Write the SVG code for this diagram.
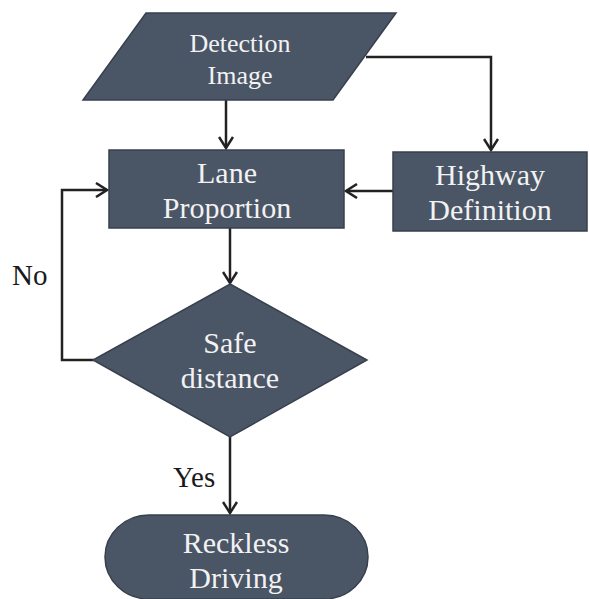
<svg xmlns="http://www.w3.org/2000/svg" width="590" height="599" viewBox="0 0 590 599">
<defs>
<style>
.node{fill:#4a5566;stroke:#37404d;stroke-width:1.5}
.lbl{font-family:"Liberation Serif","Times New Roman",serif;fill:#f2f2f2;text-anchor:middle}
.out{font-family:"Liberation Serif","Times New Roman",serif;fill:#1a1a1a;font-size:29px}
.conn{fill:none;stroke:#222;stroke-width:2.5}
</style>
<marker id="arr" markerUnits="userSpaceOnUse" markerWidth="14" markerHeight="16" refX="12" refY="8" orient="auto">
<path d="M1,1 L12,8 L1,15" fill="none" stroke="#222" stroke-width="2.5"/>
</marker>
</defs>
<rect width="590" height="599" fill="#ffffff"/>
<g id="connectors">
<path class="conn" d="M226,100 V148" marker-end="url(#arr)"/>
<path class="conn" d="M366,57 H491 V150" marker-end="url(#arr)"/>
<path class="conn" d="M393,191 H346" marker-end="url(#arr)"/>
<path class="conn" d="M230,228 V283" marker-end="url(#arr)"/>
<path class="conn" d="M94,360 H62 V190 H107" marker-end="url(#arr)"/>
<path class="conn" d="M230,437 V513" marker-end="url(#arr)"/>
<text class="out" x="12" y="285">No</text>
<text class="out" x="173" y="487">Yes</text>
</g>
<g id="detection-image">
<polygon class="node" points="146,13 396,13 333,100 83,100"/>
<text class="lbl" x="240" y="52" font-size="26">Detection</text>
<text class="lbl" x="240" y="84" font-size="26">Image</text>
</g>
<g id="lane-proportion">
<rect class="node" x="109" y="150" width="235" height="78"/>
<text class="lbl" x="227" y="183" font-size="30">Lane</text>
<text class="lbl" x="227" y="218" font-size="30">Proportion</text>
</g>
<g id="highway-definition">
<rect class="node" x="393" y="152" width="194" height="79"/>
<text class="lbl" x="490" y="185" font-size="30">Highway</text>
<text class="lbl" x="490" y="220" font-size="30">Definition</text>
</g>
<g id="safe-distance">
<polygon class="node" points="230,284 367,360 230,437 93,360"/>
<text class="lbl" x="230" y="353" font-size="30">Safe</text>
<text class="lbl" x="230" y="388" font-size="30">distance</text>
</g>
<g id="reckless-driving">
<rect class="node" x="105" y="515" width="263" height="84" rx="44" ry="44"/>
<text class="lbl" x="236" y="553" font-size="30">Reckless</text>
<text class="lbl" x="236" y="588" font-size="30">Driving</text>
</g>
</svg>
